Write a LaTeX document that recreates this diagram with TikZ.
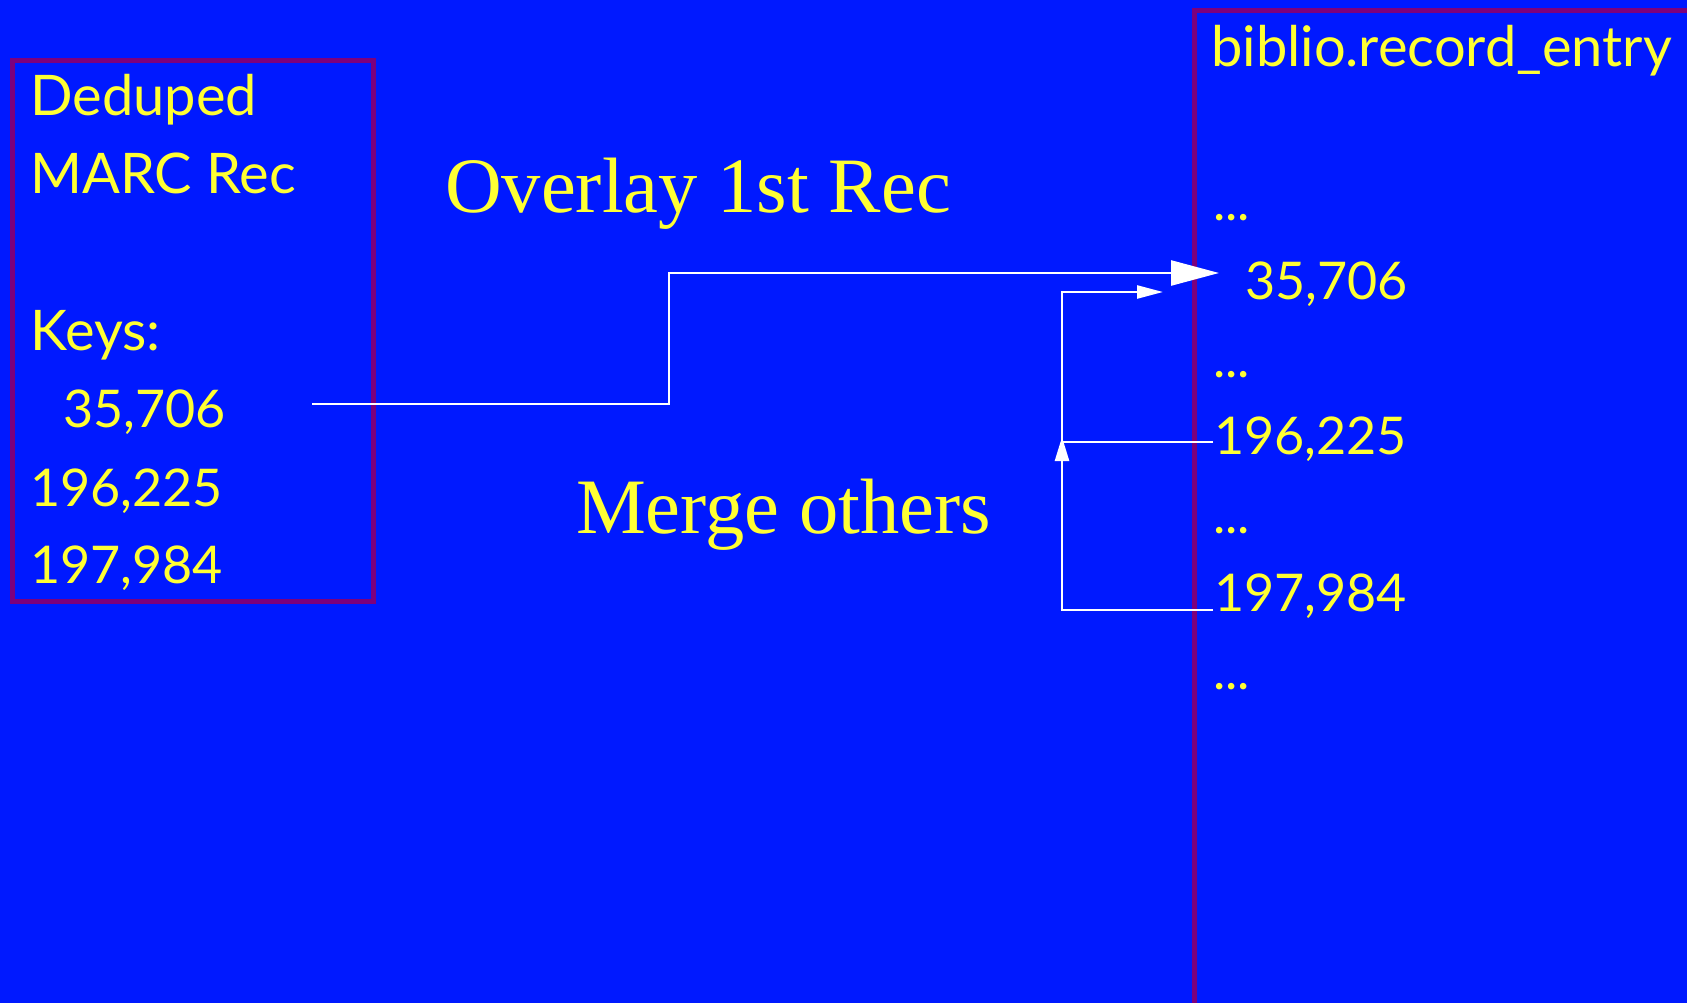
\documentclass[tikz,border=0pt]{standalone}
\usepackage{fontspec}
\setmainfont{Liberation Serif}
\newfontfamily\labelfont{Lato}
\usetikzlibrary{arrows.meta}
\definecolor{slidebg}{RGB}{0,25,255}
\definecolor{framepurple}{RGB}{125,0,125}
\definecolor{txtyellow}{RGB}{255,255,51}
\tikzset{
  keytext/.style={anchor=base west, inner sep=0pt, text=txtyellow,
    font=\labelfont\fontsize{52}{52}\selectfont},
  wordtext/.style={keytext, font=\labelfont\fontsize{56}{56}\selectfont},
  caption/.style={anchor=base west, inner sep=0pt, text=txtyellow,
    font=\fontsize{78.5}{78.5}\selectfont},
  frame/.style={draw=framepurple, line width=5pt},
  link/.style={draw=white, line width=2.5pt},
}
\begin{document}
\begin{tikzpicture}[x=1pt,y=-1pt]
  \fill[slidebg] (0,0) rectangle (1687,1003);
  \useasboundingbox (0,0) rectangle (1687,1003);
  \clip (0,0) rectangle (1687,1003);

  % left frame: the deduplicated record and its keys
  \draw[frame] (12,61) rectangle (373,601);
  \node[wordtext] (ded)  at (30,116) {Deduped};
  \node[wordtext] (marc) at (30,194) {MARC Rec};
  \node[wordtext] (keys) at (30,350) {Keys:};
  \node[keytext]  (k1)   at (63,427) {35,706};
  \node[keytext]  (k2)   at (30,506) {196,225};
  \node[keytext]  (k3)   at (30,583) {197,984};

  % right frame: the record_entry table
  \draw[frame] (1194,1020) -- (1194,11) -- (1700,11);
  \node[wordtext] (tbl) at (1211,67)  {biblio.record\_entry};
  \node[keytext] (d1)  at (1213,221) {...};
  \node[keytext] (r1)  at (1245,299) {35,706};
  \node[keytext] (d2)  at (1213,377) {...};
  \node[keytext] (r2)  at (1214,454) {196,225};
  \node[keytext] (d3)  at (1213,533) {...};
  \node[keytext] (r3)  at (1214,611) {197,984};
  \node[keytext] (d4)  at (1213,689) {...};

  % captions
  \node[caption] (ov) at (445,213) {Overlay 1st Rec};
  \node[caption] (mg) at (576,533) {Merge others};

  % connector end points
  \coordinate (k1out) at (312,404);
  \coordinate (r1in)  at (1219,273);
  \coordinate (r1mrg) at (1163,292);
  \coordinate (r2out) at (1213,442);
  \coordinate (r3out) at (1213,610);
  \coordinate (up)    at (1062,437);

  % overlay the first record
  \draw[link, -{Triangle[length=48pt,width=25pt]}]
    (k1out) -- (669,404) -- (669,273) -- (r1in);
  % merge the others into it
  \draw[link, -{Triangle[length=26pt,width=13pt]}]
    (r2out) -- (1062,442) -- (1062,292) -- (r1mrg);
  \draw[link, -{Triangle[length=24pt,width=14pt]}]
    (r3out) -- (1062,610) -- (up);
\end{tikzpicture}
\end{document}
